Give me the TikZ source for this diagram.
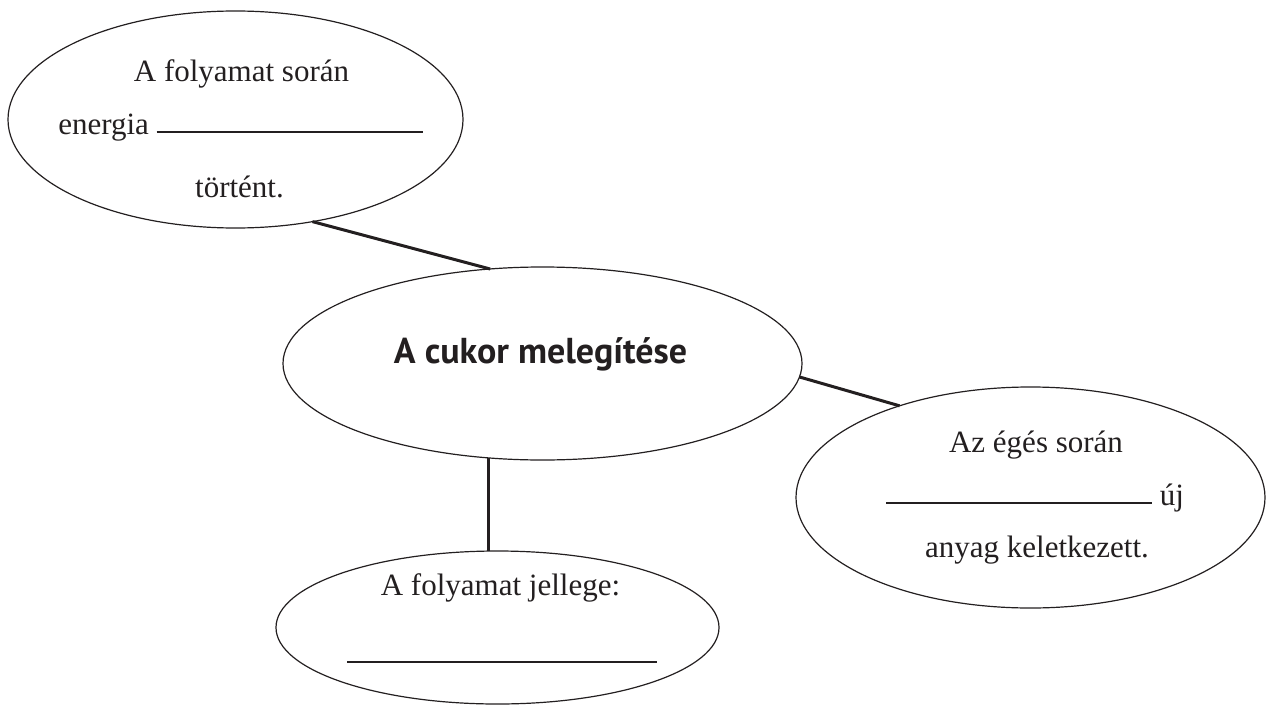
\documentclass[tikz,border=0pt]{standalone}
\usepackage{fontspec}
\setmainfont{Liberation Serif}
\newfontfamily\headfont{PT Sans}
\usetikzlibrary{shapes.geometric}
\definecolor{ink}{HTML}{231F20}

\begin{document}
\begin{tikzpicture}[x=1pt,y=-1pt,
    bubble/.style={draw=ink,line width=1.2pt,ellipse,inner sep=0pt,outer sep=0pt},
    txt/.style={anchor=base,inner sep=0pt,text=ink,font=\fontsize{31pt}{36pt}\selectfont},
    link/.style={draw=ink,line width=3pt}]
    \useasboundingbox (0,0) rectangle (1268,706);
    \node[bubble,minimum width=455pt,minimum height=217pt] (energy) at (235.5,119.5) {};
    \node[bubble,minimum width=519pt,minimum height=193pt] (heating) at (542.5,363.5) {};
    \node[bubble,minimum width=469pt,minimum height=221pt] (burning) at (1030.5,497.5) {};
    \node[bubble,minimum width=443pt,minimum height=153pt] (nature) at (497.5,627.5) {};
%    texts of the bubbles
    \node[txt] (energyA) at (241.5,82) {A folyamat során};
    \node[txt] (energyB) at (240.5,135) {energia \rule[2pt]{266pt}{1.6pt}};
    \node[txt] (energyC) at (239.5,197) {történt.};
    \node[txt,font=\fontsize{36pt}{40pt}\headfont\bfseries] (title) at (540.5,363) {A cukor melegítése};
    \node[txt] (burningA) at (1036,452) {Az égés során};
    \node[txt] (burningB) at (1035,505) {\rule[1pt]{266pt}{1.6pt} új};
    \node[txt] (burningC) at (1037,557) {anyag keletkezett.};
    \node[txt] (natureA) at (500.5,595) {A folyamat jellege:};
    \node[txt] (natureB) at (502,663) {\rule{310pt}{1.6pt}};
%    connectors
    \draw[link] (energy.307.7) -- (heating.119.7);
    \draw[link] (heating.357) -- (burning.145.1);
    \draw[link] (heating.240.5) -- (heating.240.5 |- nature.north);
\end{tikzpicture}
\end{document}
